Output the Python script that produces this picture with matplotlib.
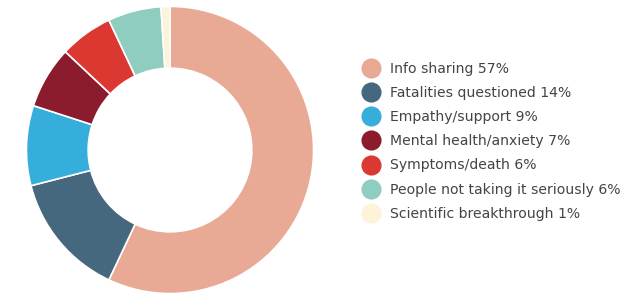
import matplotlib.pyplot as plt
from matplotlib.lines import Line2D

categories = ["Info sharing", "Fatalities questioned", "Empathy/support",
              "Mental health/anxiety", "Symptoms/death",
              "People not taking it seriously", "Scientific breakthrough"]
values = [57, 14, 9, 7, 6, 6, 1]
colors = ["#E8AA94", "#46687E", "#35AEDB", "#8B1C2E", "#DA3831",
          "#8FCDC0", "#FDF3D8"]

fig = plt.figure(figsize=(6.24, 2.98), dpi=100)
ax = fig.add_axes([25 / 624, 3 / 298, 290 / 624, 290 / 298])
ax.pie(values, colors=colors, startangle=90, counterclock=False,
       wedgeprops=dict(width=0.43, edgecolor="white", linewidth=1.2))
ax.set_xlim(-1.01, 1.01)
ax.set_ylim(-1.01, 1.01)
ax.set_aspect("equal")

# legend
handles = [Line2D([], [], marker="o", linestyle="", markersize=13.5,
                  markerfacecolor=c, markeredgecolor=c) for c in colors]
labels = [f"{c} {v}%" for c, v in zip(categories, values)]
fig.legend(handles, labels, loc="upper left",
           bbox_to_anchor=(356 / 624, 1 - 55 / 298), frameon=False,
           fontsize=10.1, labelspacing=0.72, handletextpad=0.75,
           handlelength=1.2, labelcolor="#444444", borderpad=0)

fig.savefig("out.png", dpi=100)
